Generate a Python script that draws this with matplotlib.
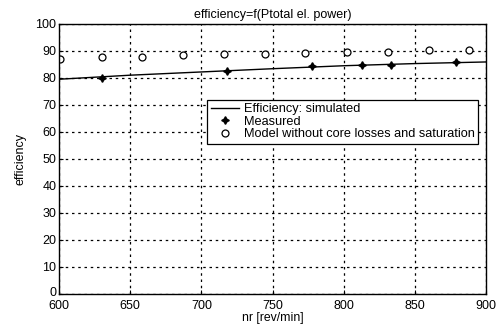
import matplotlib.pyplot as plt
import matplotlib.transforms as mtransforms
import numpy as np

plt.rcParams['font.family'] = ['Liberation Sans', 'DejaVu Sans']

# simulated efficiency curve
sim_speed = [600, 650, 700, 750, 800, 850, 900]
sim_eff = [79.5, 81.0, 82.2, 83.4, 84.5, 85.3, 85.9]

# measured points
meas_speed = [630, 718, 778, 813, 833, 879]
meas_eff = [79.8, 82.6, 84.5, 84.8, 84.8, 85.8]

# model without core losses and saturation
model_speed = [601, 630, 658, 687, 716, 745, 773, 802, 831, 860, 888]
model_eff = [87.0, 87.7, 87.7, 88.5, 88.9, 88.9, 89.4, 89.6, 89.6, 90.4, 90.4]

fig = plt.figure(figsize=(4.96, 3.27), dpi=100)
ax = fig.add_axes([0.119, 0.101, 0.861, 0.826])

ax.plot(sim_speed, sim_eff, color='black', linewidth=1.0,
        label='Efficiency: simulated')
ax.plot(meas_speed, meas_eff, linestyle='none', marker=(4, 1, 0),
        markersize=5.5, color='black', label='Measured')
ax.plot(model_speed, model_eff, linestyle='none', marker='o',
        markersize=5, markerfacecolor='white', markeredgecolor='black',
        markeredgewidth=0.9, label='Model without core losses and saturation')

ax.set_xlim(600, 900)
ax.set_ylim(0, 100)
ax.set_xticks(np.arange(600, 901, 50))
ax.set_yticks(np.arange(0, 101, 10))
ax.tick_params(direction='in', labelsize=9, length=3)
ax.tick_params(axis='x', pad=4)
ax.tick_params(axis='y', pad=2)
ax.grid(True, linestyle=(0, (2, 3)), color='black', linewidth=0.9)

# lift the "0" label a little so it clears "600", as in the original
lbl0 = ax.get_yticklabels()[0]
lbl0.set_transform(lbl0.get_transform() +
                   mtransforms.ScaledTranslation(0, 2 / 72, fig.dpi_scale_trans))

ax.set_title('efficiency=f(Ptotal el. power)', fontsize=9, pad=4)
ax.set_xlabel('nr [rev/min]', fontsize=8.8, labelpad=0)
ax.set_ylabel('efficiency', fontsize=9, labelpad=6)

leg = ax.legend(loc='upper right', bbox_to_anchor=(0.981, 0.7185), fontsize=9.2,
                frameon=True, fancybox=False, edgecolor='black',
                framealpha=1, handlelength=2.2, handletextpad=0.4,
                borderpad=0.25, labelspacing=0.05, borderaxespad=0)
leg.get_frame().set_linewidth(0.9)

for s in ax.spines.values():
    s.set_linewidth(1.0)

fig.savefig('out.png', dpi=100)
